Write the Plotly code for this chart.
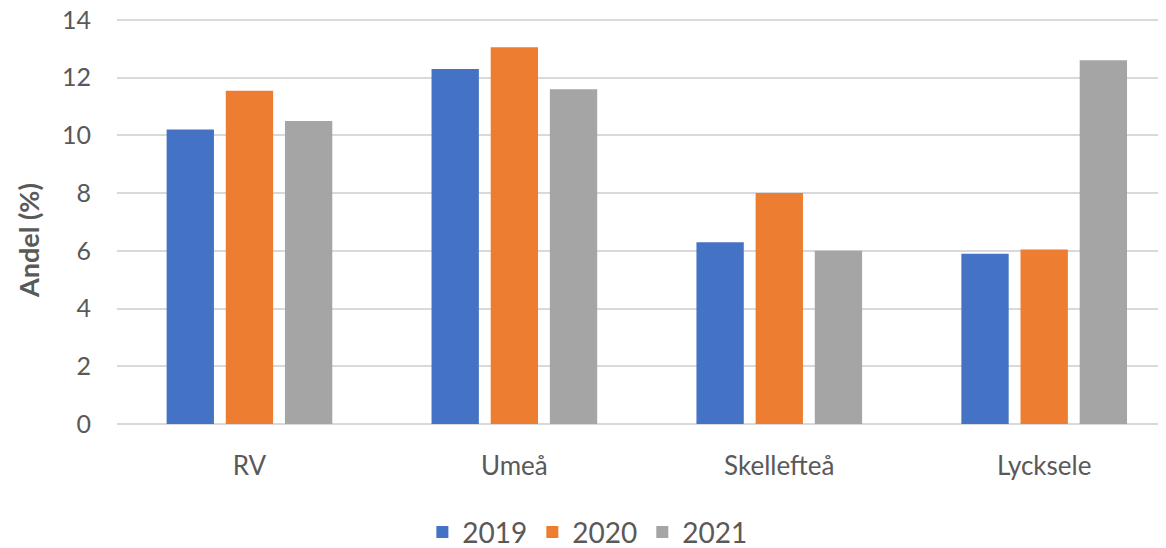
import plotly.graph_objects as go

categories = ["RV", "Umeå", "Skellefteå", "Lycksele"]
years = ["2019", "2020", "2021"]
v2019 = [10.2, 12.3, 6.3, 5.9]
v2020 = [11.55, 13.05, 8.0, 6.05]
v2021 = [10.5, 11.6, 6.0, 12.6]
colors = ["#4472C4", "#ED7D31", "#A5A5A5"]

fig = go.Figure()
for name, vals, c in zip(years, [v2019, v2020, v2021], colors):
    fig.add_trace(go.Bar(x=categories, y=vals, name=name, marker_color=c,
                         marker_line_width=0))

font = "Lato, 'Open Sans', sans-serif"
fig.update_layout(
    width=1166, height=548,
    margin=dict(l=109, r=0, t=3, b=132, autoexpand=False),
    paper_bgcolor="white", plot_bgcolor="white",
    barmode="group", bargap=0.33, bargroupgap=0.2,
    font=dict(family=font, color="#595959"),
    showlegend=True,
    legend=dict(orientation="h", x=0.445, xanchor="center", y=-0.262, yanchor="middle",
                font=dict(size=28, color="#595959"), itemwidth=30, traceorder="normal"),
    annotations=[dict(text="<b>Andel (%)</b>", textangle=-90, xref="paper", yref="paper",
                      x=-0.0842, y=0.443, xanchor="center", yanchor="middle", showarrow=False,
                      font=dict(size=27, color="#595959"))],
)
fig.update_xaxes(range=[-0.5, 3.49], showgrid=False, showline=False, automargin=False,
                 tickfont=dict(size=26, color="#595959"), ticks="", ticklabelstandoff=24)
fig.update_yaxes(range=[0, 14.31], tickvals=[0, 2, 4, 6, 8, 10, 12, 14], showgrid=True,
                 gridcolor="#D9D9D9", gridwidth=1.5, ticklabeloverflow="allow", automargin=False,
                 zeroline=True, zerolinecolor="#D9D9D9", zerolinewidth=1.5,
                 tickfont=dict(size=25, color="#595959"), ticklabelstandoff=25)
fig.write_html("out.html")
